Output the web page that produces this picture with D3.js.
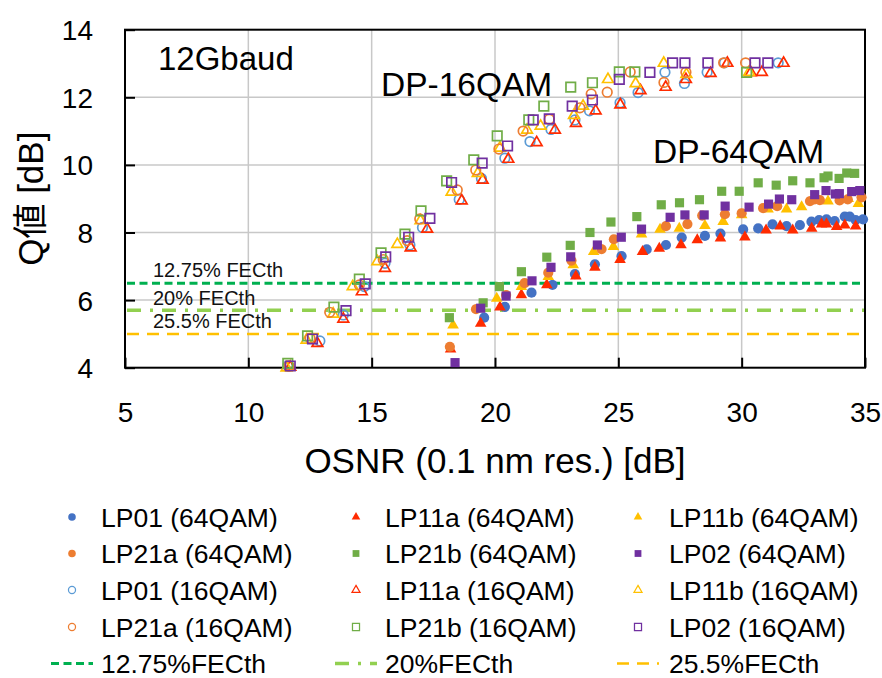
<!DOCTYPE html>
<html>
<head>
<meta charset="utf-8">
<script src="https://cdn.jsdelivr.net/npm/d3@7"></script>
<style>
  html, body { margin: 0; padding: 0; background: #fff; }
  svg { display: block; font-family: "Liberation Sans", Arial, "Noto Sans CJK JP", sans-serif; }
</style>
</head>
<body>
<svg id="chart" width="882" height="678"></svg>
<script>
// OSNR (dB) vs Q (dB), 12 Gbaud, six modes, DP-64QAM (filled) and DP-16QAM (hollow)
const lp01_64 = [[19.56,5.48],[20.4,5.8],[21.48,6.22],[22.33,6.45],[23.24,6.77],[24.05,7.06],[25.13,7.3],[26.15,7.5],[26.93,7.63],[27.57,7.85],[28.51,7.9],[29.14,7.97],[30.06,8.09],[30.67,8.12],[31.25,8.24],[31.82,8.19],[32.36,8.22],[32.83,8.32],[33.14,8.37],[33.44,8.39],[33.77,8.34],[34.18,8.47],[34.38,8.47],[34.62,8.37],[34.92,8.39]];
const lp11a_64 = [[18.2,4.55],[19.42,5.31],[20.2,5.79],[21.07,6.15],[22.1,6.45],[23.28,6.71],[24.05,6.97],[25.07,7.2],[25.98,7.43],[26.66,7.53],[27.54,7.63],[28.2,7.78],[29.14,7.83],[30.13,7.86],[30.99,8.07],[31.56,8.19],[32.07,8.07],[32.84,8.12],[33.24,8.25],[33.44,8.25],[33.85,8.17],[34.18,8.22],[34.62,8.19]];
const lp11b_64 = [[18.3,5.26],[20.07,6.05],[21.07,6.4],[22.16,6.69],[23.17,7.04],[24.0,7.43],[24.8,7.58],[25.94,7.95],[26.69,8.09],[27.47,8.12],[28.51,8.2],[29.25,8.32],[30.0,8.52],[31.07,8.69],[31.82,8.69],[32.43,8.76],[33.1,8.96],[33.5,8.93],[34.32,9.0],[34.73,8.85]];
const lp21a_64 = [[18.17,4.62],[19.23,5.73],[20.45,6.15],[21.2,6.5],[22.16,6.81],[23.1,7.17],[24.32,7.51],[24.82,7.8],[26.93,8.19],[27.8,8.25],[28.4,8.5],[29.32,8.54],[30.0,8.57],[30.87,8.72],[31.44,8.78],[32.77,8.93],[32.96,8.98],[33.17,8.96],[33.97,8.95],[34.3,8.98],[34.86,9.04]];
const lp21b_64 = [[18.15,5.48],[19.52,5.92],[20.18,6.4],[21.07,6.84],[22.1,7.27],[23.05,7.62],[23.85,8.0],[24.7,8.31],[25.75,8.47],[26.74,8.82],[27.48,8.88],[28.29,8.97],[29.19,9.22],[29.9,9.22],[30.67,9.47],[31.4,9.4],[32.07,9.53],[32.77,9.47],[33.34,9.62],[33.5,9.67],[33.95,9.6],[34.26,9.76],[34.58,9.75]];
const lp02_64 = [[18.38,4.15],[19.42,5.76],[20.45,6.12],[21.5,6.57],[22.27,6.97],[23.07,7.28],[24.15,7.63],[25.12,7.86],[25.94,8.1],[27.1,8.45],[27.7,8.52],[28.48,8.52],[29.33,8.78],[30.3,8.75],[31.09,8.84],[31.53,8.99],[32.03,8.97],[32.96,9.12],[33.42,9.24],[33.8,9.14],[33.96,9.15],[34.46,9.21],[34.79,9.24]];

const lp01_16 = [[11.6,4.05],[12.9,4.79],[13.85,5.56],[14.7,6.4],[15.54,7.09],[16.55,7.63],[17.06,8.15],[18.55,8.98],[19.45,9.6],[20.4,10.2],[21.42,10.69],[22.27,11.05],[23.24,11.33],[23.83,11.6],[25.07,11.84],[25.8,12.14],[26.89,12.74],[27.68,12.41],[28.6,12.74],[29.3,13.02],[31.48,13.02]];
const lp11a_16 = [[11.7,4.02],[12.8,4.72],[13.85,5.44],[14.6,6.25],[15.54,6.94],[16.58,7.55],[17.25,8.1],[18.65,8.94],[19.5,9.55],[20.54,10.17],[21.69,10.66],[22.43,11.03],[23.28,11.23],[24.08,11.6],[25.08,11.78],[25.9,12.2],[26.92,12.3],[27.74,12.53],[28.74,12.71],[29.42,13.01],[30.37,12.73],[30.82,12.74],[31.7,13.01]];
const lp11b_16 = [[11.55,4.0],[12.36,4.82],[13.44,5.59],[14.23,6.4],[15.23,7.14],[16.04,7.65],[16.98,8.35],[18.24,9.2],[19.3,9.75],[20.2,10.5],[21.3,11.03],[21.85,11.15],[23.2,11.47],[23.57,11.74],[24.58,12.53],[25.7,12.41],[26.84,13.01],[27.76,12.68],[30.3,12.74]];
const lp21a_16 = [[11.65,4.05],[12.5,4.87],[13.3,5.64],[14.5,6.45],[15.47,7.2],[16.44,7.76],[16.95,8.4],[18.47,9.26],[19.22,9.85],[20.16,10.47],[21.14,11.0],[22.2,11.35],[23.44,11.69],[23.9,12.1],[24.55,12.15],[25.48,12.75],[26.85,12.44],[27.74,12.74],[29.27,13.02],[30.16,13.02]];
const lp21b_16 = [[11.6,4.13],[12.4,4.94],[13.47,5.79],[14.5,6.62],[15.38,7.4],[16.35,7.95],[17.0,8.64],[18.04,9.53],[19.14,10.15],[20.09,10.86],[21.37,11.33],[21.98,11.74],[23.07,12.3],[23.95,12.43],[25.04,12.75],[25.67,12.75],[30.2,12.74]];
const lp02_16 = [[11.7,4.05],[12.6,4.85],[13.96,5.69],[14.74,6.48],[15.57,7.28],[16.5,7.86],[17.36,8.42],[18.24,9.48],[19.48,10.05],[20.51,10.56],[21.55,11.33],[22.2,11.36],[23.13,11.74],[23.95,11.92],[25.04,12.53],[26.28,12.74],[27.2,13.02],[27.7,13.02],[28.63,13.02],[30.54,13.02],[31.06,13.02]];

// FEC thresholds (Q in dB)
const fecNames = ["12.75%FECth", "20%FECth", "25.5%FECth"];
const fecPlotLabels = ["12.75% FECth", "20% FECth", "25.5% FECth"];
const fecLevels = [6.5, 5.7, 5.0];

const xTicks = [5, 10, 15, 20, 25, 30, 35];
const yTicks = [4, 6, 8, 10, 12, 14];

// series table built from the arrays above
const series = [
  { name: "LP01 (64QAM)",  data: lp01_64,  shape: "circle",   color: "#4472C4", filled: true },
  { name: "LP11a (64QAM)", data: lp11a_64, shape: "triangle", color: "#FF2B00", filled: true },
  { name: "LP11b (64QAM)", data: lp11b_64, shape: "triangle", color: "#FFC000", filled: true },
  { name: "LP21a (64QAM)", data: lp21a_64, shape: "circle",   color: "#ED7D31", filled: true },
  { name: "LP21b (64QAM)", data: lp21b_64, shape: "square",   color: "#70AD47", filled: true },
  { name: "LP02 (64QAM)",  data: lp02_64,  shape: "square",   color: "#7030A0", filled: true },
  { name: "LP01 (16QAM)",  data: lp01_16,  shape: "circle",   color: "#5B9BD5", filled: false },
  { name: "LP11a (16QAM)", data: lp11a_16, shape: "triangle", color: "#FF2B00", filled: false },
  { name: "LP11b (16QAM)", data: lp11b_16, shape: "triangle", color: "#FFC000", filled: false },
  { name: "LP21a (16QAM)", data: lp21a_16, shape: "circle",   color: "#ED7D31", filled: false },
  { name: "LP21b (16QAM)", data: lp21b_16, shape: "square",   color: "#70AD47", filled: false },
  { name: "LP02 (16QAM)",  data: lp02_16,  shape: "square",   color: "#7030A0", filled: false }
];
const fecStyles = [
  { color: "#00B050", width: 3,   dash: "8,4.5" },
  { color: "#92D050", width: 3.5, dash: "14,9,3,9" },
  { color: "#FFC000", width: 2.5, dash: "12,8" }
];

const svg = d3.select("#chart");
const L = 125, R = 865, T = 29.7, B = 367.7;
const x = d3.scaleLinear().domain([5, 35]).range([L, R]);
const y = d3.scaleLinear().domain([4, 14]).range([B, T]);

// grid
const grid = svg.append("g").attr("stroke", "#C8C8C8").attr("stroke-width", 1.5);
grid.selectAll("line.v").data(xTicks.slice(1, -1)).join("line")
  .attr("x1", d => x(d)).attr("x2", d => x(d)).attr("y1", T).attr("y2", B);
grid.selectAll("line.h").data(yTicks.slice(1, -1)).join("line")
  .attr("x1", L).attr("x2", R).attr("y1", d => y(d)).attr("y2", d => y(d));

// axes
const yAxis = svg.append("g").attr("transform", `translate(${L},0)`)
  .call(d3.axisLeft(y).tickValues(yTicks).tickSize(-10).tickPadding(32).tickFormat(d3.format("d")));
const xAxis = svg.append("g").attr("transform", `translate(0,${B})`)
  .call(d3.axisBottom(x).tickValues(xTicks).tickSize(-10).tickPadding(34).tickFormat(d3.format("d")));
[yAxis, xAxis].forEach(a => {
  a.select(".domain").remove();
  a.selectAll(".tick line").attr("stroke", "#000").attr("stroke-width", 2);
  a.selectAll(".tick text").attr("fill", "#000").attr("font-size", 28)
    .attr("font-family", "'Liberation Sans', Arial, sans-serif");
});
yAxis.selectAll(".tick text").attr("dy", "0.36em");

// plot frame
svg.append("rect").attr("x", L).attr("y", T).attr("width", R - L).attr("height", B - T)
  .attr("fill", "none").attr("stroke", "#000").attr("stroke-width", 2);

// FEC threshold lines
svg.append("g").selectAll("line").data(fecLevels).join("line")
  .attr("x1", x(5) + 2).attr("x2", x(35) - 1)
  .attr("y1", d => y(d)).attr("y2", d => y(d))
  .attr("stroke", (d, i) => fecStyles[i].color)
  .attr("stroke-width", (d, i) => fecStyles[i].width)
  .attr("stroke-dasharray", (d, i) => fecStyles[i].dash);

// in-plot labels
const fecLabelY = [276.7, 305, 328];
svg.append("g").selectAll("text").data(fecPlotLabels).join("text")
  .attr("x", 153).attr("y", (d, i) => fecLabelY[i])
  .attr("font-size", 20).attr("fill", "#111").text(d => d);
svg.append("text").attr("x", 158).attr("y", 70).attr("font-size", 33).text("12Gbaud");
svg.append("text").attr("x", 381).attr("y", 96).attr("font-size", 33.5).text("DP-16QAM");
svg.append("text").attr("x", 653).attr("y", 163).attr("font-size", 33.5).text("DP-64QAM");

// markers
const symType = { circle: d3.symbolCircle, square: d3.symbolSquare, triangle: d3.symbolTriangle };
function symSize(shape, filled, scale) {
  const s = shape === "circle" ? (filled ? 82 : 72)
          : shape === "square" ? (filled ? 84 : 90)
          : (filled ? 58 : 50);
  return s * scale;
}
function drawMarker(sel, s, scale) {
  sel.attr("d", d3.symbol().type(symType[s.shape]).size(symSize(s.shape, s.filled, scale)))
    .attr("fill", s.filled ? s.color : "none")
    .attr("stroke", s.filled ? "none" : s.color)
    .attr("stroke-width", s.filled ? 0 : 1.7 * Math.sqrt(scale));
}
series.forEach(s => {
  svg.append("g").selectAll("path").data(s.data).join("path")
    .attr("transform", d => `translate(${x(d[0])},${y(d[1])})`)
    .call(sel => drawMarker(sel, s, 1));
});

// axis titles
svg.append("text").attr("x", (L + R) / 2).attr("y", 473).attr("text-anchor", "middle")
  .attr("font-size", 35).text("OSNR (0.1 nm res.) [dB]");
svg.append("text").attr("transform", `translate(43,${(T + B) / 2}) rotate(-90)`)
  .attr("text-anchor", "middle").attr("font-size", 35)
  .attr("font-family", "'Liberation Sans', 'Noto Sans CJK JP', sans-serif").text("Q値 [dB]");

// legend
const colMark = [72, 356, 638], colText = [101, 385, 669];
const rowY = [517, 553.5, 590, 627, 663.5];
const leg = svg.append("g");
series.forEach((s, i) => {
  const c = i % 3, r = Math.floor(i / 3);
  leg.append("path").attr("transform", `translate(${colMark[c]},${rowY[r]})`)
    .call(sel => drawMarker(sel, s, 0.55));
  leg.append("text").attr("x", colText[c]).attr("y", rowY[r] + 9.5)
    .attr("font-size", 26.5).text(s.name);
});
fecNames.forEach((n, i) => {
  leg.append("line").attr("x1", colMark[i] - 21).attr("x2", colMark[i] + 21)
    .attr("y1", rowY[4]).attr("y2", rowY[4])
    .attr("stroke", fecStyles[i].color).attr("stroke-width", fecStyles[i].width)
    .attr("stroke-dasharray", fecStyles[i].dash);
  leg.append("text").attr("x", colText[i]).attr("y", rowY[4] + 9.5)
    .attr("font-size", 26.5).text(n);
});
</script>
</body>
</html>
